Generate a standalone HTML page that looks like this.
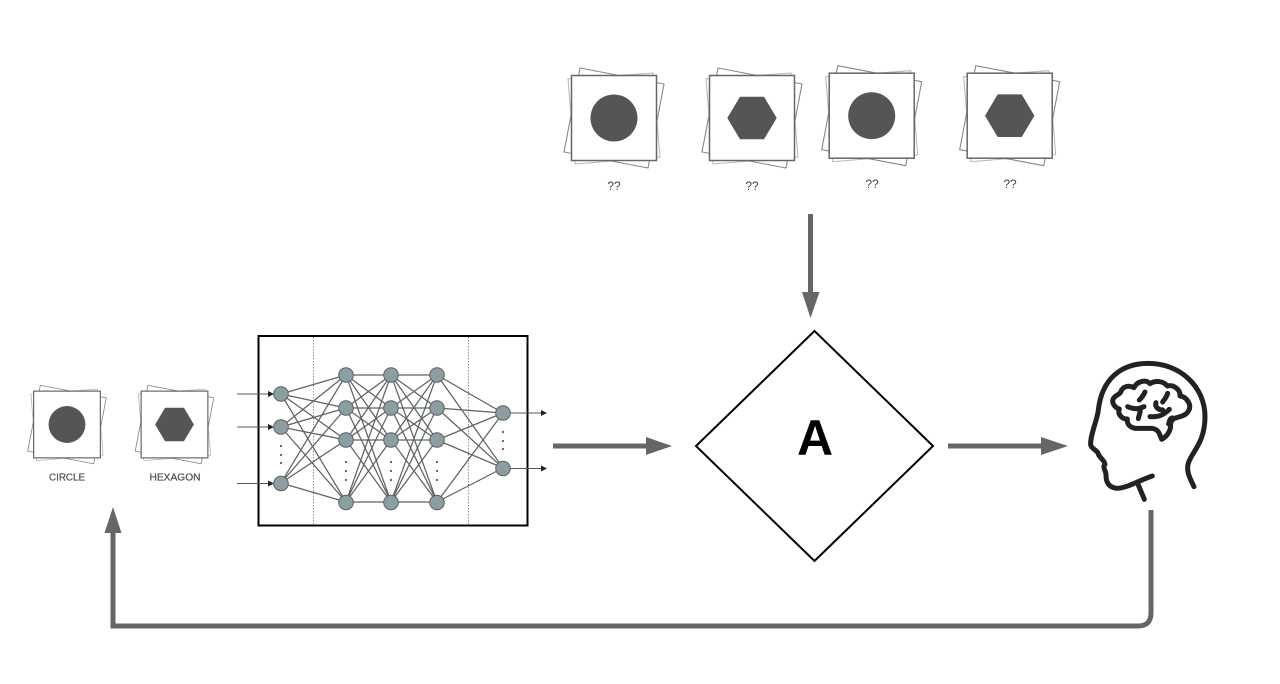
<!DOCTYPE html>
<html>
<head>
<meta charset="utf-8">
<style>
html,body{margin:0;padding:0;background:#fff;width:1280px;height:684px;overflow:hidden}
svg{display:block}
text{font-family:"Liberation Sans",sans-serif}
</style>
</head>
<body>
<svg width="1280" height="684" viewBox="0 0 1280 684" xmlns="http://www.w3.org/2000/svg">
<defs>
<filter id="soft" x="-5%" y="-5%" width="110%" height="110%"><feGaussianBlur stdDeviation=".35"/></filter>
<g id="stack" fill="none">
<polygon points="-46,-39 39,-45 46,39 -39,46" stroke="#b5b5b5" stroke-width="1"/>
<polygon points="-34,-50 50,-34 34,50 -50,34" stroke="#888" stroke-width="1.1"/>
<rect x="-42.500" y="-42.500" width="85" height="85" fill="#fff" stroke="#666" stroke-width="1.500"/>
</g>
<g id="circ"><use href="#stack"/><circle r="23.5" fill="#555"/></g>
<g id="hex"><use href="#stack"/><polygon points="-24.7,0 -12,-21.3 12,-21.3 24.7,0 12,21.3 -12,21.3" fill="#555"/></g>
</defs>

<g filter="url(#soft)">
<!-- top cards -->
<use href="#circ" transform="translate(614,118)"/>
<use href="#hex" transform="translate(752,118)"/>
<use href="#circ" transform="translate(871.7,115.7)"/>
<use href="#hex" transform="translate(1009.7,115.7)"/>
<g font-size="12" fill="#444" text-anchor="middle">
<text x="614" y="190">??</text>
<text x="752" y="190">??</text>
<text x="872" y="188">??</text>
<text x="1010" y="188">??</text>
</g>

<!-- left cards -->
<use href="#circ" transform="translate(67,424.5) scale(.785)"/>
<use href="#hex" transform="translate(174.5,424.5) scale(.785)"/>
<g font-size="10" fill="#555" stroke="#555" stroke-width=".25" text-anchor="middle">
<text x="67" y="480.5" textLength="36" lengthAdjust="spacingAndGlyphs">CIRCLE</text>
<text x="175" y="480.5" textLength="51" lengthAdjust="spacingAndGlyphs">HEXAGON</text>
</g>

<!-- neural network -->
<rect x="258.5" y="336" width="269" height="189.5" fill="#fff" stroke="#000" stroke-width="2"/>
<g stroke="#777" stroke-width=".8" stroke-dasharray="1.5 1.5">
<line x1="313.5" y1="337" x2="313.5" y2="524"/>
<line x1="468.5" y1="337" x2="468.5" y2="524"/>
</g>
<g fill="none" stroke="#5f6364" stroke-width="1.25">
<path d="M281 394L346 375M281 394L346 408M281 394L346 440M281 394L346 502M281 427L346 375M281 427L346 408M281 427L346 440M281 427L346 502M281 483L346 375M281 483L346 408M281 483L346 440M281 483L346 502"/>
<path d="M346 375L391 375M346 375L391 408M346 375L391 440M346 375L391 502M346 408L391 375M346 408L391 408M346 408L391 440M346 408L391 502M346 440L391 375M346 440L391 408M346 440L391 440M346 440L391 502M346 502L391 375M346 502L391 408M346 502L391 440M346 502L391 502"/>
<path d="M391 375L437 375M391 375L437 408M391 375L437 440M391 375L437 502M391 408L437 375M391 408L437 408M391 408L437 440M391 408L437 502M391 440L437 375M391 440L437 408M391 440L437 440M391 440L437 502M391 502L437 375M391 502L437 408M391 502L437 440M391 502L437 502"/>
<path d="M437 375L503 413M437 375L503 468M437 408L503 413M437 408L503 468M437 440L503 413M437 440L503 468M437 502L503 413M437 502L503 468"/>
</g>
<g stroke="#555" stroke-width="1" fill="none">
<path d="M237 394H270M237 427H270M237 483.5H270M510 413H542M510 468.5H542"/>
</g>
<g fill="#222">
<polygon points="268,391 274,394 268,397"/>
<polygon points="268,424 274,427 268,430"/>
<polygon points="268,480.5 274,483.5 268,486.5"/>
<polygon points="541,410 547,413 541,416"/>
<polygon points="541,465.5 547,468.5 541,471.5"/>
</g>
<g fill="#8d9ea3" stroke="#5a6164" stroke-width="1">
<circle cx="281" cy="394" r="7.300"/><circle cx="281" cy="427" r="7.300"/><circle cx="281" cy="483.5" r="7.300"/>
<circle cx="346" cy="375" r="7.300"/><circle cx="346" cy="408" r="7.300"/><circle cx="346" cy="440" r="7.300"/><circle cx="346" cy="502.5" r="7.300"/>
<circle cx="391" cy="375" r="7.300"/><circle cx="391" cy="408" r="7.300"/><circle cx="391" cy="440" r="7.300"/><circle cx="391" cy="502.5" r="7.300"/>
<circle cx="437" cy="375" r="7.300"/><circle cx="437" cy="408" r="7.300"/><circle cx="437" cy="440" r="7.300"/><circle cx="437" cy="502.5" r="7.300"/>
<circle cx="503" cy="413" r="7.300"/><circle cx="503" cy="468.5" r="7.300"/>
</g>
<g fill="#666">
<rect x="280" y="445" width="2" height="2"/><rect x="280" y="454" width="2" height="2"/><rect x="280" y="462" width="2" height="2"/>
<rect x="345" y="461" width="2" height="2"/><rect x="345" y="470" width="2" height="2"/><rect x="345" y="479" width="2" height="2"/>
<rect x="390" y="461" width="2" height="2"/><rect x="390" y="470" width="2" height="2"/><rect x="390" y="479" width="2" height="2"/>
<rect x="436" y="461" width="2" height="2"/><rect x="436" y="470" width="2" height="2"/><rect x="436" y="479" width="2" height="2"/>
<rect x="502" y="431" width="2" height="2"/><rect x="502" y="440" width="2" height="2"/><rect x="502" y="448" width="2" height="2"/>
</g>

<!-- diamond -->
<polygon points="814.5,331 933,446 814.5,561 696,446" fill="#fff" stroke="#000" stroke-width="2"/>
<text x="815" y="455" font-size="50" font-weight="bold" fill="#000" text-anchor="middle">A</text>

<!-- arrows -->
<g fill="none" stroke="#666" stroke-width="5">
<path d="M810.5 214V295"/>
<path d="M553 446H650"/>
<path d="M948 446H1045"/>
<path d="M1151 510V613Q1151 626 1138 626H113V530"/>
</g>
<g fill="#666">
<polygon points="802,292 819.5,292 810.5,318"/>
<polygon points="646,437 646,455 672,446"/>
<polygon points="1041,437 1041,455 1068,446"/>
<polygon points="104.5,533 121.5,533 113,507"/>
</g>

<!-- head with brain -->
<g transform="translate(1080,350) scale(.3333)" fill="none" stroke="#222" stroke-width="15" stroke-linecap="round" stroke-linejoin="round">
<path d="M342 410C330 385 318 365 325 340C335 305 375 280 375 200C375 110 300 40 205 40C120 40 65 90 55 180C52 210 30 255 32 285C35 298 52 300 55 312C58 322 74 332 75 343C66 352 78 362 78 375C78 395 85 412 110 415C140 415 180 390 217 378"/>
<path d="M175 405L193 448"/>
<path d="M245 268C238 250 236 238 215 235L165 235C150 232 140 222 142 207C125 208 112 192 118 177C102 172 90 152 105 140C113 132 120 134 123 124C128 110 146 104 162 113C170 95 197 86 210 101C226 90 250 93 262 108C282 103 302 120 300 138C320 140 336 165 326 182C318 197 300 200 290 203C278 205 270 215 272 228C271 245 258 262 245 268Z"/>
<path d="M178 150C186 143 190 136 195 126"/>
<path d="M143 170C158 176 172 180 192 170M180 174C183 188 176 196 175 206"/>
<path d="M228 158C224 172 236 180 248 180M268 178C254 192 240 202 210 200"/>
<path d="M263 130C259 143 252 150 248 156"/>
<path d="M280 205C272 200 268 212 266 222"/>
</g>
</g>
</svg>
</body>
</html>
